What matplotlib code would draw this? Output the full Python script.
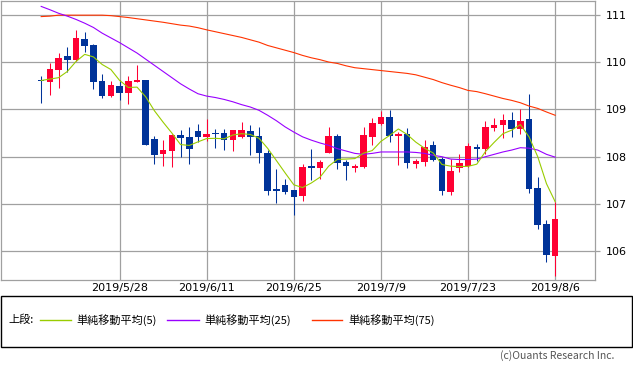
import numpy as np
import pandas as pd
import matplotlib
matplotlib.use("Agg")
import matplotlib.pyplot as plt
from matplotlib.patches import Rectangle
from matplotlib.lines import Line2D

# ---------------- data ----------------
opens = [109.62, 109.58, 109.825, 110.13, 110.04, 110.48, 110.35, 109.59, 109.28, 109.49,
         109.35, 109.58, 109.61, 108.37, 108.06, 108.12, 108.45, 108.41, 108.54, 108.41,
         108.49, 108.50, 108.35, 108.41, 108.54, 108.43, 108.07, 107.29, 107.40, 107.29,
         107.17, 107.78, 107.76, 108.08, 108.43, 107.88, 107.76, 107.78, 108.42, 108.69,
         108.84, 108.44, 108.47, 107.85, 107.89, 108.24, 107.95, 107.26, 107.77, 107.81,
         108.20, 108.16, 108.61, 108.66, 108.77, 108.59, 108.80, 107.34, 106.58, 105.91]
highs = [109.70, 109.98, 110.19, 110.32, 110.67, 110.63, 110.39, 109.74, 109.59, 109.61,
         109.70, 109.93, 109.62, 108.44, 108.35, 108.49, 108.56, 108.62, 108.70, 108.79,
         108.58, 108.59, 108.57, 108.73, 108.66, 108.62, 108.14, 107.74, 107.52, 107.30,
         107.84, 108.16, 107.93, 108.63, 108.47, 107.93, 107.85, 108.63, 108.82, 108.96,
         108.99, 108.52, 108.61, 107.95, 108.36, 108.33, 108.00, 107.95, 108.05, 108.28,
         108.26, 108.75, 108.82, 108.90, 108.94, 109.00, 109.32, 107.57, 106.66, 107.05]
lows = [109.13, 109.30, 109.46, 109.79, 110.03, 110.21, 109.42, 109.24, 109.26, 109.19,
        109.11, 109.57, 108.24, 107.85, 107.81, 107.79, 108.00, 107.85, 108.31, 108.33,
        108.19, 108.14, 108.12, 108.40, 108.03, 107.86, 107.19, 107.03, 107.21, 106.77,
        107.06, 107.50, 107.53, 108.07, 107.75, 107.50, 107.68, 107.76, 108.24, 108.68,
        108.31, 107.82, 107.76, 107.76, 107.81, 107.91, 107.19, 107.19, 107.68, 107.78,
        107.91, 108.05, 108.54, 108.40, 108.42, 108.47, 107.24, 106.47, 105.77, 105.48]
closes = [109.59, 109.85, 110.08, 110.04, 110.50, 110.34, 109.58, 109.28, 109.51, 109.35,
          109.59, 109.62, 108.25, 108.04, 108.14, 108.45, 108.40, 108.16, 108.42, 108.49,
          108.47, 108.35, 108.56, 108.56, 108.41, 108.07, 107.28, 107.27, 107.26, 107.15,
          107.78, 107.76, 107.88, 108.43, 107.87, 107.81, 107.81, 108.45, 108.71, 108.84,
          108.44, 108.49, 107.87, 107.90, 108.20, 107.93, 107.28, 107.69, 107.86, 108.22,
          108.16, 108.62, 108.66, 108.77, 108.59, 108.75, 107.32, 106.56, 105.93, 106.68]
# closes of the 4 sessions before the first candle (estimated so that MA5 matches)
prior_closes = [109.70, 109.93, 109.39, 109.44]

ma25 = [111.175, 111.105, 111.03, 110.97, 110.90, 110.82, 110.73, 110.61, 110.51, 110.41,
        110.30, 110.19, 110.06, 109.93, 109.80, 109.67, 109.54, 109.43, 109.33, 109.28,
        109.25, 109.21, 109.16, 109.10, 109.05, 108.98, 108.875, 108.76, 108.63, 108.52,
        108.42, 108.35, 108.29, 108.24, 108.17, 108.12, 108.07, 108.05, 108.07, 108.10,
        108.10, 108.10, 108.10, 108.09, 108.07, 108.03, 108.00, 107.95, 107.94, 107.94,
        107.95, 108.00, 108.05, 108.10, 108.14, 108.19, 108.18, 108.14, 108.05, 107.99]
ma75 = [110.96, 110.97, 110.99, 110.99, 110.99, 110.99, 110.99, 110.99, 110.98, 110.96,
        110.94, 110.915, 110.89, 110.865, 110.84, 110.81, 110.78, 110.76, 110.725, 110.68,
        110.64, 110.60, 110.56, 110.52, 110.47, 110.42, 110.35, 110.30, 110.25, 110.20,
        110.14, 110.09, 110.05, 110.00, 109.97, 109.92, 109.88, 109.86, 109.84, 109.82,
        109.80, 109.78, 109.76, 109.73, 109.68, 109.63, 109.565, 109.51, 109.46, 109.40,
        109.375, 109.33, 109.28, 109.23, 109.19, 109.14, 109.07, 109.02, 108.945, 108.875]

dates = pd.bdate_range("2019-05-15", "2019-08-06")
tick_dates = ["2019-05-28", "2019-06-11", "2019-06-25", "2019-07-09", "2019-07-23", "2019-08-06"]
y_ticks = [106, 107, 108, 109, 110, 111]
legend_labels = ["単純移動平均(5)", "単純移動平均(25)", "単純移動平均(75)"]

# ---------------- styling ----------------
UP, DOWN = "#ff0033", "#003399"
C5, C25, C75 = "#99cc00", "#9900ff", "#ff3300"
GRID = "#a0a0a0"
JP = ["Noto Sans CJK JP", "DejaVu Sans"]

W, H = 633, 371
fig = plt.figure(figsize=(W / 100, H / 100), dpi=100)
fx = lambda px: px / W
fy = lambda py: 1 - py / H

ax = fig.add_axes([fx(0.5), fy(280), fx(594.5), 279.5 / H])

x = np.arange(len(dates))
o = np.array(opens); c = np.array(closes)
h = np.array(highs); l = np.array(lows)
cols = [UP if cc >= oo else DOWN for oo, cc in zip(o, c)]
bottoms = np.minimum(o, c)
heights = np.maximum(np.abs(c - o), 0.04)

ax.vlines(x, l, h, colors=cols, linewidth=0.75, zorder=2)
ax.bar(x, heights, bottom=bottoms, width=0.75, color=cols, linewidth=0, zorder=3)

ma5 = pd.Series(prior_closes + closes).rolling(5).mean().iloc[len(prior_closes):].values
ax.plot(x, ma75, color=C75, lw=0.8, zorder=4)
ax.plot(x, ma25, color=C25, lw=0.8, zorder=4)
ax.plot(x, ma5, color=C5, lw=0.8, zorder=4)

ax.set_xlim(-4.67, 63.57)
ax.set_ylim(105.395, 111.30)

pos = [list(dates.strftime("%Y-%m-%d")).index(d) for d in tick_dates]
labs = [f"{dates[p].year}/{dates[p].month}/{dates[p].day}" for p in pos]
ax.set_xticks(pos)
ax.set_xticklabels(labs)
ax.yaxis.tick_right()
ax.set_yticks(y_ticks)
ax.set_yticklabels([str(v) for v in y_ticks])
ax.tick_params(axis="x", length=0, pad=2.5, labelsize=8)
ax.tick_params(axis="y", length=3.6, width=0.9, color=GRID, pad=4, labelsize=8)
ax.grid(True, color=GRID, lw=0.9)
ax.set_axisbelow(True)
for s in ax.spines.values():
    s.set_color(GRID)
    s.set_linewidth(0.9)

# ---------------- legend box ----------------
fig.patches.append(Rectangle((fx(0.5), fy(347)), fx(631.5), (347 - 296) / H,
                             transform=fig.transFigure, fill=False,
                             edgecolor="black", lw=1.0))
ly = fy(320)
fig.text(fx(8), ly, "上段:", ha="left", va="center", fontsize=8, family=JP)
for (x0, x1, tx), col, lab in zip([(40, 71, 76), (167, 199, 204), (312, 342, 348)],
                                  [C5, C25, C75], legend_labels):
    fig.add_artist(Line2D([fx(x0), fx(x1)], [ly, ly], color=col, lw=1.0,
                          transform=fig.transFigure))
    fig.text(fx(tx), ly, lab, ha="left", va="center", fontsize=8, family=JP)

fig.text(fx(614), fy(356), "(c)Ouants Research Inc.", ha="right", va="center",
         fontsize=7.5, color="#555555", family=JP)

fig.savefig("out.png", dpi=100)
